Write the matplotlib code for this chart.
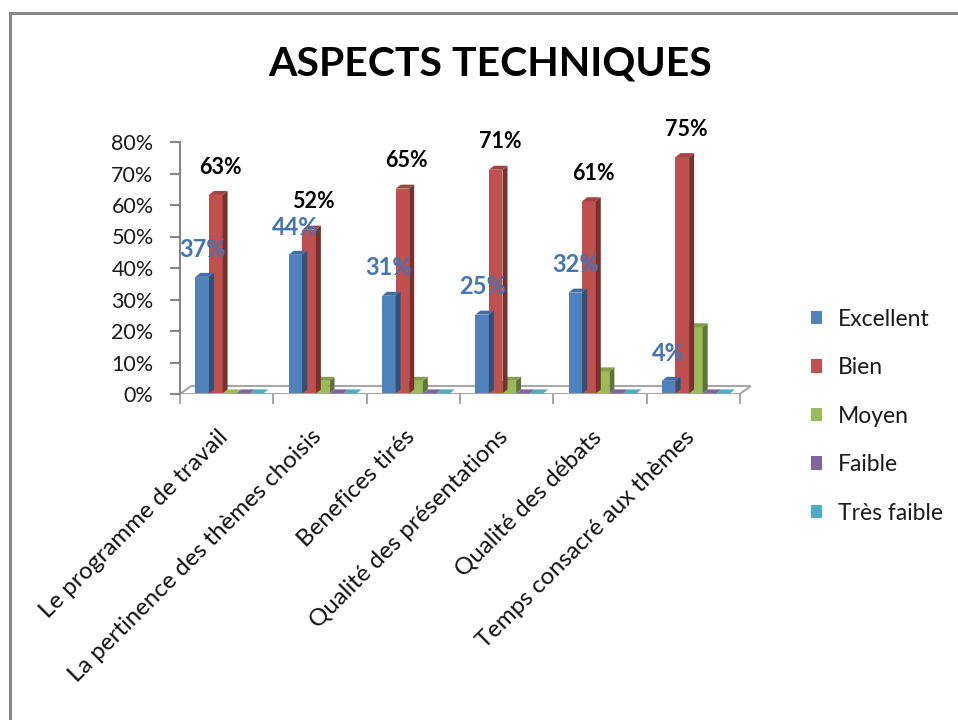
import matplotlib
matplotlib.use("Agg")
import matplotlib.pyplot as plt
from matplotlib.patches import Polygon, Patch, Rectangle
from matplotlib.lines import Line2D
import matplotlib.transforms as mtransforms
import numpy as np
import matplotlib.colors as mcolors

plt.rcParams['font.family'] = ['Lato', 'DejaVu Sans']

categories = ["Le programme de travail", "La pertinence des thèmes choisis",
              "Benefices tirés", "Qualité des présentations",
              "Qualité des débats", "Temps consacré aux thèmes"]
series_names = ["Excellent", "Bien", "Moyen", "Faible", "Très faible"]
excellent = [37, 44, 31, 25, 32, 4]
bien = [63, 52, 65, 71, 61, 75]
moyen = [0, 4, 4, 4, 7, 21]
faible = [0, 0, 0, 0, 0, 0]
tres_faible = [0, 0, 0, 0, 0, 0]
yticks = [0, 10, 20, 30, 40, 50, 60, 70, 80]
title = "ASPECTS TECHNIQUES"

colors = ["#4F81BD", "#C0504D", "#9BBB59", "#8064A2", "#4BACC6"]
values = [excellent, bien, moyen, faible, tres_faible]

fig = plt.figure(figsize=(9.58, 7.2), dpi=100)
# frame border
fig.add_artist(Line2D([9.5/958, 9.5/958], [0, 1-13/720], color="#878787", lw=2.2, transform=fig.transFigure))
fig.add_artist(Line2D([9.5/958, 1], [1-13/720, 1-13/720], color="#878787", lw=2.2, transform=fig.transFigure))

ax = fig.add_axes([180/958, 1-394/720, 580/958, 252/720])
ax.set_xlim(-0.5, -0.5 + 580/93.3)
ax.set_ylim(0, 80)

px_x = 1/93.3       # data units per pixel in x
px_y = 80/252       # data units per pixel in y
w = 13.6 * px_x
dx, dy = 5 * px_x, 4 * px_y

def shade(c, f):
    r, g, b = mcolors.to_rgb(c)
    return (r*f, g*f, b*f)

# floor
fdx, fdy = 11 * px_x, 8 * px_y
floor = Polygon([(-0.5, 0), (5.5, 0), (5.5 + fdx, fdy), (-0.5 + fdx, fdy)],
                closed=True, facecolor="white", edgecolor="#A6A6A6", lw=1.5, zorder=1)
ax.add_patch(floor)

x = np.arange(len(categories))
base = 0.6 * px_y
for i, (vals, col) in enumerate(zip(values, colors)):
    for j, v in enumerate(vals):
        left = x[j] - 0.335 + i * w
        v0 = base
        top = v0 + v
        z = 3 + j * 0.01 - i * 0.001
        if v > 0:
            ax.add_patch(Rectangle((left, v0), w, v, facecolor=col, edgecolor="none", zorder=z))
            ax.add_patch(Polygon([(left + w, v0), (left + w + dx, v0 + dy), (left + w + dx, top + dy), (left + w, top)],
                                 closed=True, facecolor=shade(col, 0.62), edgecolor="none", zorder=z))
        ax.add_patch(Polygon([(left, top), (left + w, top), (left + w + dx, top + dy), (left + dx, top + dy)],
                             closed=True, facecolor=shade(col, 0.85) if v > 0 else col, edgecolor="none", zorder=z))

# data labels
for j in range(len(categories)):
    lb = x[j] - 0.335 + 0.5 * w
    ax.annotate(f"{excellent[j]}%", (lb, base + excellent[j]), xytext=(0, 20), textcoords="offset points",
                ha="center", va="center", fontsize=17, fontweight="bold", color="#4374B3", zorder=20)
    lr = x[j] - 0.335 + 1.5 * w
    ax.annotate(f"{bien[j]}%", (lr, base + bien[j]), xytext=(3, 20), textcoords="offset points",
                ha="center", va="center", fontsize=15.5, fontweight="bold", color="#000000", zorder=20)

for s in ["top", "right", "bottom"]:
    ax.spines[s].set_visible(False)
ax.spines["left"].set_color("#868686")
ax.spines["left"].set_linewidth(1.5)
ax.set_yticks(yticks)
ax.set_yticklabels([f"{t}%" for t in yticks], fontsize=15.5, color="#1a1a1a")
ax.tick_params(axis="y", length=7, width=1.5, color="#868686", pad=12)

ax.set_xticks(x)
ax.set_xticklabels(categories, rotation=45, ha="right", rotation_mode="anchor", fontsize=17.3, color="#111111")
ax.tick_params(axis="x", which="major", length=0, pad=23)
offset = mtransforms.ScaledTranslation(-9/100, 0, fig.dpi_scale_trans)
for lab in ax.get_xticklabels():
    lab.set_transform(lab.get_transform() + offset)
ax.set_xticks(np.arange(-0.5, 6.0, 1.0), minor=True)
ax.tick_params(axis="x", which="minor", length=7, width=1.5, color="#A6A6A6", direction="out")
ax.patch.set_alpha(0)

fig.text(490/958, 1-64/720, title, ha="center", va="center", fontsize=29.5, fontweight="bold", color="#000000")

handles = [Patch(facecolor=c, edgecolor="none") for c in colors]
fig.legend(handles, series_names, loc="upper left", bbox_to_anchor=(790/958, 1-288/720),
           frameon=False, fontsize=16.5, handlelength=0.5, handleheight=0.5, handletextpad=0.7,
           labelspacing=1.2, labelcolor="#1a1a1a")

fig.savefig("out.png", dpi=100)
